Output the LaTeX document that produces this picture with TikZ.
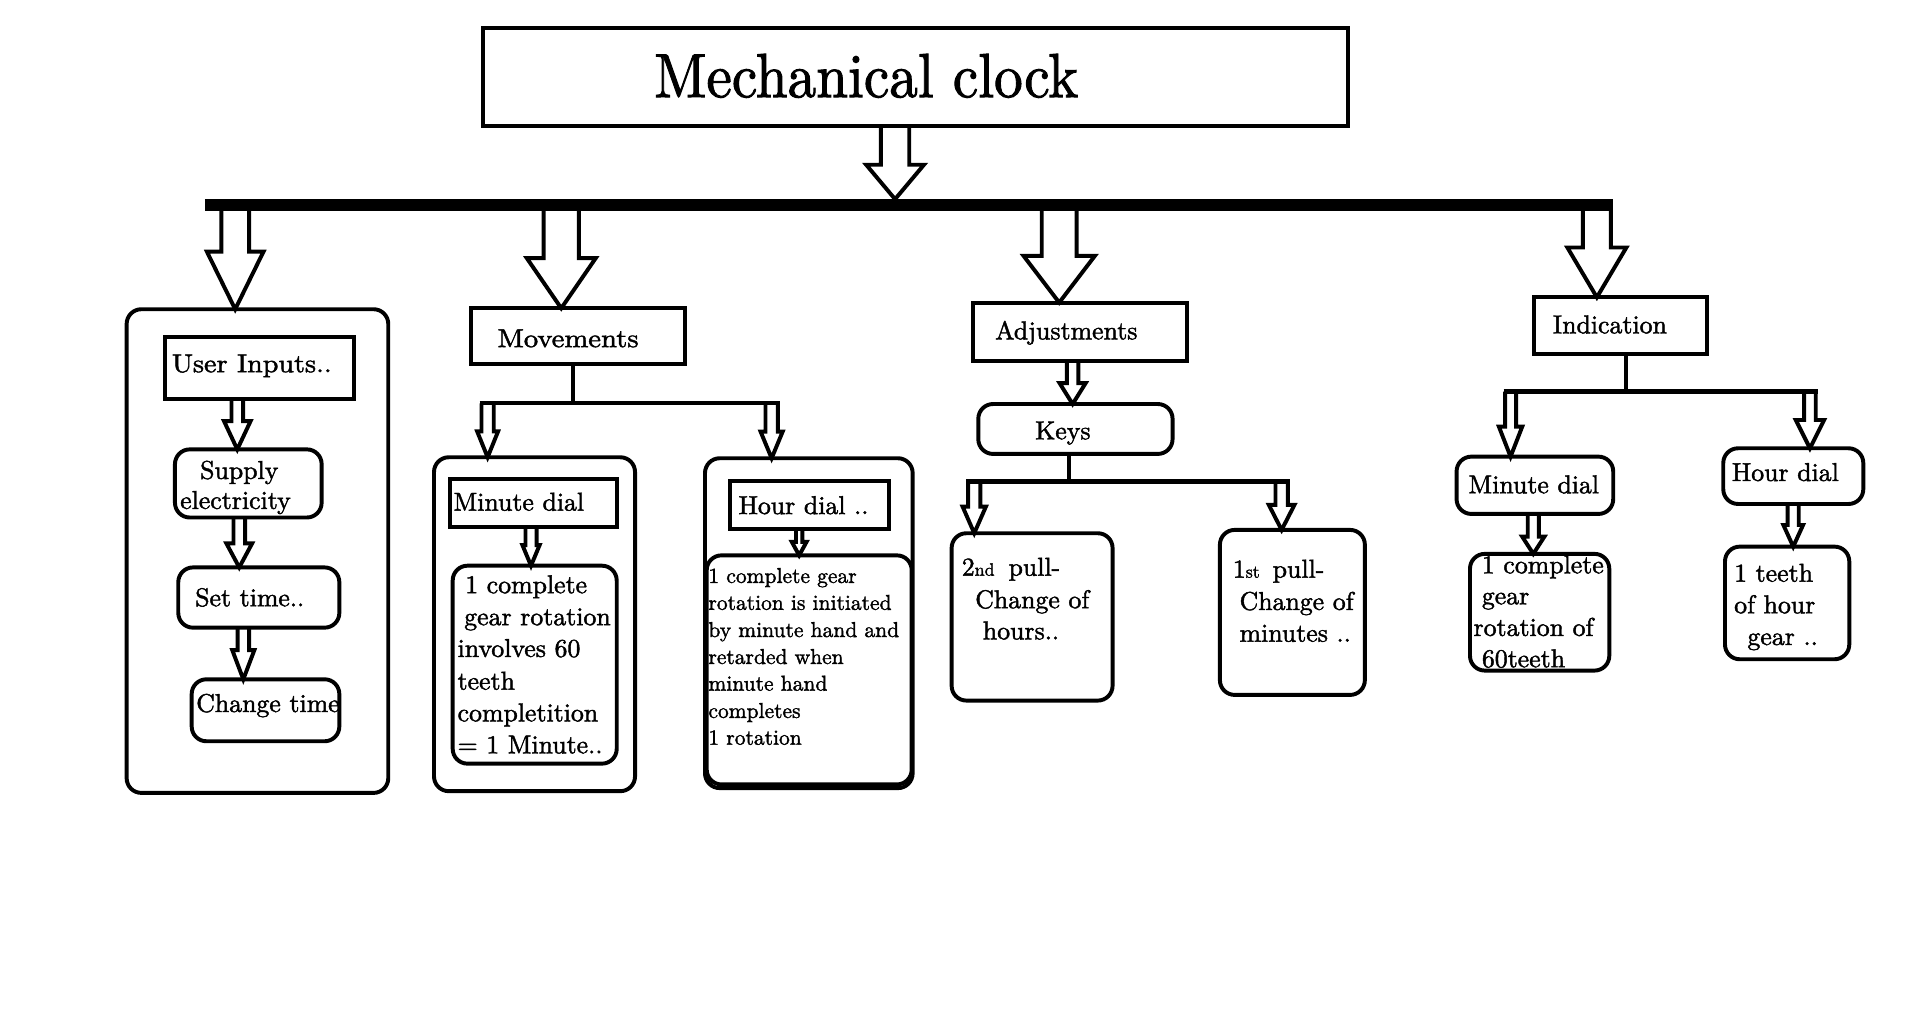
\documentclass[tikz,border=0pt]{standalone}
\usepackage{fontspec}
\setmainfont{lmroman10-regular}[Extension=.otf, FakeBold=1.6]
\usetikzlibrary{calc}
\newcommand\mkbox[6]{\node[#1, minimum width={(#5)-(#3)}, minimum height={(#6)-(#4)}] (#2) at ({((#3)+(#5))/2},{((#4)+(#6))/2}) {};}
% x, from, to, shaft half width, head half width, head length
\newcommand\harrow[6]{\draw[harr] let \p1=(#2), \p2=(#3) in
  ({(#1-#4)*1pt},\y1) -- ({(#1-#4)*1pt},{\y2+#6pt}) -- ({(#1-#5)*1pt},{\y2+#6pt}) -- ({#1*1pt},\y2)
  -- ({(#1+#5)*1pt},{\y2+#6pt}) -- ({(#1+#4)*1pt},{\y2+#6pt}) -- ({(#1+#4)*1pt},\y1);}
\newcommand\smallsup[1]{{\fontsize{14.5}{17}\selectfont #1}}
\begin{document}
\begin{tikzpicture}[x=1pt,y=-1pt,
  bx/.style={draw, line width=3.2pt, inner sep=0pt, outer sep=0pt},
  rbx/.style={bx, rounded corners=12pt},
  lbl/.style={anchor=base west, inner sep=0pt, font=\fontsize{21}{25}\selectfont},
  slbl/.style={anchor=base west, inner sep=0pt, font=\fontsize{17.5}{21}\selectfont},
  wire/.style={draw, line width=3.5pt},
  harr/.style={draw, line width=3.2pt, line join=miter},
  bus/.style={draw, line width=9.5pt}]
\useasboundingbox (0,0) rectangle (1560,822.3);

% ---------- boxes ----------
\mkbox{bx}{title}{393}{23}{1096}{102.5}
\node[anchor=base west, inner sep=0pt, font=\fontsize{47}{56}\selectfont] (titletxt) at (531.8,79) {\scalebox{0.99}[1.08]{Mechanical clock}};

% User inputs
\mkbox{rbx}{uiP}{103}{251.5}{315.8}{644.9}
\mkbox{bx}{ui}{134.2}{273.9}{287.9}{324.3}
\mkbox{rbx}{sup}{142.3}{365.5}{261.6}{420.9}
\mkbox{rbx}{set}{145}{461.5}{276}{510.5}
\mkbox{rbx}{chg}{155.9}{552.5}{276}{602.9}
\node[lbl] (tui) at (139.6,302.7) {\scalebox{1.09}[1]{User Inputs..}};
\node[lbl] (tsup1) at (162.6,389.5) {Supply};
\node[lbl] (tsup2) at (146.4,413.9) {electricity};
\node[lbl] (tset) at (158.6,493.1) {Set time..};
\node[lbl] (tchg) at (159.4,579.1) {Change time};

% Movements
\mkbox{bx}{mov}{382.8}{250.7}{557.1}{296.3}
\node[lbl] (tmov) at (404.5,282.3) {\scalebox{1.11}[1]{Movements}};
\mkbox{rbx}{minP}{353}{371.9}{516.5}{643.5}
\mkbox{bx}{min}{366}{389.3}{502.1}{428.5}
\mkbox{rbx}{minI}{368.2}{460.1}{501.6}{621.1}
\node[lbl] (tmin) at (368.7,415.3) {Minute dial};
\node[lbl] (tm1) at (378.2,482.5) {1 complete};
\node[lbl] (tm2) at (377.4,508.5) {gear rotation};
\node[lbl] (tm3) at (372,534.3) {involves 60};
\node[lbl] (tm4) at (372,560.9) {teeth};
\node[lbl] (tm5) at (372,586.7) {completition};
\node[lbl] (tm6) at (372,612.7) {= 1 Minute..};
\mkbox{rbx}{hourP}{573.4}{372.7}{742.3}{641}
\mkbox{bx}{hour}{593.7}{391.5}{723.3}{429.9}
\mkbox{rbx}{hourI}{574.8}{451.7}{741.5}{638}
\node[lbl] (thour) at (600.5,418.1) {Hour dial ..};
\node[slbl] (th1) at (576,474.1) {1 complete gear};
\node[slbl] (th2) at (576,496) {rotation is initiated};
\node[slbl] (th3) at (576,518.1) {by minute hand and};
\node[slbl] (th4) at (576,540) {retarded when};
\node[slbl] (th5) at (576,561.7) {minute hand};
\node[slbl] (th6) at (576,583.9) {completes};
\node[slbl] (th7) at (576,605.7) {1 rotation};

% Adjustments
\mkbox{bx}{adj}{791.6}{246.1}{965.1}{293.3}
\node[lbl] (tadj) at (809.2,276) {Adjustments};
\mkbox{rbx}{keys}{795.7}{328.6}{953.7}{369.2}
\node[lbl] (tkeys) at (841.8,357.3) {Keys};
\mkbox{rbx}{hrs}{774}{433.7}{904.9}{569.8}
\mkbox{rbx}{mins}{992.2}{431}{1110.1}{565.2}
\node[lbl] (thr1) at (782.1,468.2) {2\smallsup{nd}\hspace{11.4pt}pull-};
\node[lbl] (thr2) at (793,494.7) {Change of};
\node[lbl] (thr3) at (799.2,520) {hours..};
\node[lbl] (tmn1) at (1002.5,469.8) {1\smallsup{st}\hspace{10.6pt}pull-};
\node[lbl] (tmn2) at (1008,496.1) {Change of};
\node[lbl] (tmn3) at (1008,521.9) {minutes ..};

% Indication
\mkbox{bx}{ind}{1247.6}{241.8}{1388.6}{287.9}
\node[lbl] (tind) at (1262.8,271.1) {Indication};
\mkbox{rbx}{mind}{1184.7}{371.4}{1312.1}{418}
\node[lbl] (tmind) at (1194.2,401.2) {Minute dial};
\mkbox{rbx}{mI}{1195.6}{450.5}{1308.9}{545.4}
\node[lbl] (ti1) at (1205.1,466.3) {1 complete};
\node[lbl] (ti2) at (1205.1,491.5) {gear};
\node[lbl] (ti3) at (1198.3,517.2) {rotation of};
\node[lbl] (ti4) at (1205.1,542.7) {60teeth};
\mkbox{rbx}{hd}{1401.6}{364.6}{1515.5}{409.9}
\node[lbl] (thd) at (1408.4,391.2) {Hour dial};
\mkbox{rbx}{hI}{1403}{444.6}{1504.1}{536.2}
\node[lbl] (tj1) at (1410.3,473.1) {1 teeth};
\node[lbl] (tj2) at (1410.3,498.8) {of hour};
\node[lbl] (tj3) at (1421.1,524.6) {gear ..};

% ---------- bus and branch coordinates ----------
\coordinate (busL) at (166.7,166.8);
\coordinate (busR) at (1311.7,166.8);
\coordinate (bustop) at (728,162);
\coordinate (movJ) at (466.3,328);
\coordinate (movL) at (390,328);
\coordinate (movR) at (634,328);
\coordinate (keyJ) at (869.7,391.7);
\coordinate (keyL) at (785.8,391.7);
\coordinate (keyR) at (1049,391.7);
\coordinate (indJ) at (1322.4,318.5);
\coordinate (indL) at (1223,318.5);
\coordinate (indR) at (1478.4,318.5);

% ---------- connectors ----------
\harrow{728}{title.south}{bustop}{11.5}{23.5}{28}
\harrow{191.3}{busL}{uiP.north}{11.3}{23}{46.8}
\harrow{456.5}{busL}{mov.north}{14.3}{28}{40.7}
\harrow{861.5}{busL}{adj.north}{14.2}{29}{38}
\harrow{1298.8}{busL}{ind.north}{11.4}{24}{40.5}
\draw[bus] (busL) -- (busR);

\harrow{193}{ui.south}{sup.north}{4.7}{10.8}{23}
\harrow{194.6}{sup.south}{set.north}{4.7}{10.5}{19.6}
\harrow{197.9}{set.south}{chg.north}{4.7}{9}{23.8}

\draw[wire] (mov.south -| movJ) -- (movJ);
\draw[wire] (movL) -- (movR);
\harrow{396.6}{movL}{minP.north}{5}{8.5}{21}
\harrow{627.6}{movL}{hourP.north}{5}{9}{21.7}
\harrow{431.9}{min.south}{minI.north}{4.5}{7}{16.8}
\harrow{650}{hour.south}{hourI.north}{2.6}{6}{11}

\harrow{872.4}{adj.south}{keys.north}{4.7}{10.6}{17}
\draw[wire] (keys.south -| keyJ) -- (keyJ);
\draw[wire] (keyL) -- (keyR);
\harrow{792.4}{keyL}{hrs.north}{5}{9.5}{21.7}
\harrow{1042.4}{keyL}{mins.north}{5}{10.4}{20.3}

\draw[wire] (ind.south -| indJ) -- (indJ);
\draw[wire] (indL) -- (indR);
\harrow{1228.6}{indL}{mind.north}{4.5}{9.5}{24.4}
\harrow{1472.1}{indL}{hd.north}{4.7}{11.5}{23}
\harrow{1247.1}{mind.south}{mI.north}{4.5}{9}{14}
\harrow{1458.5}{hd.south}{hI.north}{4.5}{8}{17.6}
\end{tikzpicture}
\end{document}
